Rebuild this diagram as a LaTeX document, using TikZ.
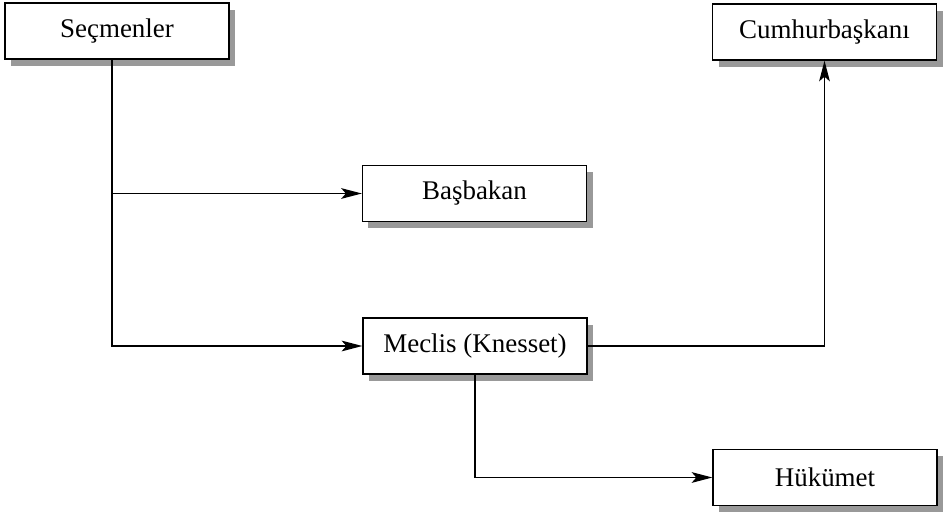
\documentclass[tikz,border=0pt]{standalone}
\usepackage{fontspec}
\setmainfont{Liberation Serif}
\usetikzlibrary{arrows.meta, positioning, shadows}

\begin{document}
\begin{tikzpicture}[x=0.03cm, y=-0.03cm, >={Stealth[length=6.2mm, width=3.2mm, inset=1.4mm]},
    kutu/.style={draw, line width=1.1pt, fill=white, minimum width=6.72cm, minimum height=1.68cm,
                 inner sep=0pt, font=\fontsize{23}{27}\selectfont,
                 drop shadow={shadow xshift=0.18cm, shadow yshift=-0.2cm, fill=black!40, opacity=1}},
    ok/.style={line width=1.5pt}]

\useasboundingbox (0,0) rectangle (949,516);

% ---- Kutular ------------------------------------------------------------
\node[kutu] (secmen)   at (117,31)      {Seçmenler};
\node[kutu] (cumhur)   at (824.5,32)    {Cumhurbaşkanı};
\node[kutu] (basbakan) at (474.5,193.5) {Başbakan};
\node[kutu] (meclis)   at (475,346)     {Meclis (Knesset)};
\node[kutu] (hukumet)  at (825,477.5)   {Hükümet};

% ---- Oklar --------------------------------------------------------------
\coordinate (kol) at (112,346);
\draw[ok,->] (secmen.south -| kol) -- (kol) -- (meclis.west);
\draw[ok,->] (kol |- basbakan.west) -- (basbakan.west);
\draw[ok,->] (meclis.east) -| (cumhur.south);
\draw[ok,->] (meclis.south) |- (hukumet.west);

\end{tikzpicture}
\end{document}
